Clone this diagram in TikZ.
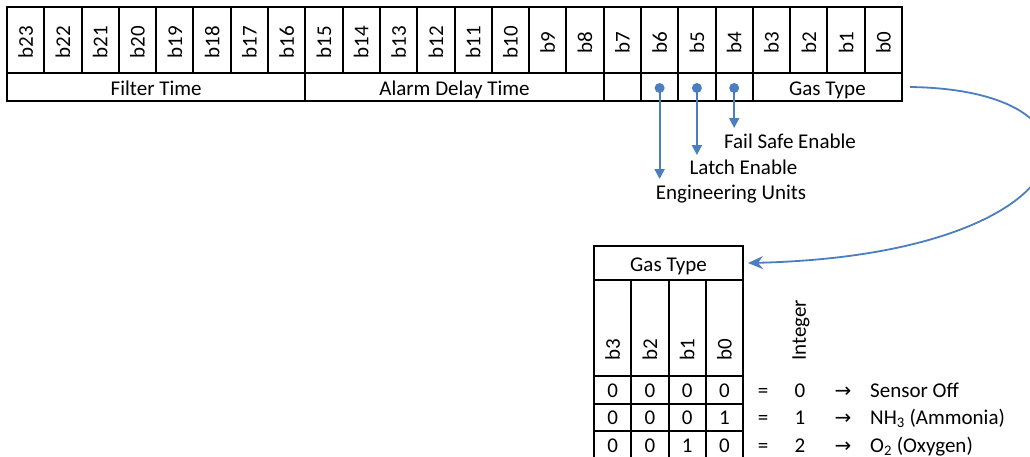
\documentclass[tikz,border=0pt]{standalone}
\usepackage{fontspec}
\setmainfont{Carlito}
\newfontfamily\arrowfont{DejaVu Sans}
\usetikzlibrary{arrows.meta}
\definecolor{linkblue}{RGB}{74,126,190}
\begin{document}
\begin{tikzpicture}[x=1pt,y=-1pt,
  font=\fontsize{21}{25}\selectfont,
  cell/.style={draw, line width=2pt, inner sep=0pt, outer sep=0pt},
  txtcell/.style={cell, text height=16pt, text depth=0pt},
  valcell/.style={cell, text height=14.5pt, text depth=0pt,
    minimum width=37.25pt, minimum height=27.5pt},
  bitlabel/.style={rotate=90, inner sep=0pt},
  dotmark/.style={circle, fill=linkblue, inner sep=0pt, minimum size=10pt},
  bluearrow/.style={draw=linkblue, line width=2pt,
    -{Triangle[length=10pt,width=10pt]}},
  curvearrow/.style={draw=linkblue, line width=1.8pt,
    -{Stealth[length=15pt,width=13pt,inset=5pt]}},
  plain/.style={inner sep=0pt}]
\useasboundingbox (0,0) rectangle (1030,456);
\fill[white] (0,0) rectangle (1030,456);
\clip (0,0) rectangle (1030,456);

% ---- top register: bit cells
\foreach \i in {0,...,23}{
  \pgfmathtruncatemacro\b{23-\i}
  \node[cell, minimum width=37.2917pt, minimum height=66pt] (c\b)
    at ({7+(\i+0.5)*37.2917},40) {};
  \node[bitlabel] (l\b) at ({7+(\i+0.5)*37.2917},42.5) {b\b};
}

% ---- top register: field row
\node[txtcell, minimum width=298.33pt, minimum height=28pt] (ft) at (156.17,87) {Filter Time};
\node[txtcell, minimum width=298.33pt, minimum height=28pt] (ad) at (454.5,87) {Alarm Delay Time};
\node[cell, minimum width=37.29pt, minimum height=28pt] (f7) at (622.31,87) {};
\node[cell, minimum width=37.29pt, minimum height=28pt] (f6) at (659.6,87) {};
\node[cell, minimum width=37.29pt, minimum height=28pt] (f5) at (696.9,87) {};
\node[cell, minimum width=37.29pt, minimum height=28pt] (f4) at (734.19,87) {};
\node[txtcell, minimum width=149.17pt, minimum height=28pt] (gt) at (827.42,87) {Gas Type};

% ---- flag dots and arrows
\node[dotmark] (d6) at (659.6,88) {};
\node[dotmark] (d5) at (696.9,88) {};
\node[dotmark] (d4) at (734.19,88) {};
\coordinate (e6) at (659.6,179);
\coordinate (e5) at (696.9,155);
\coordinate (e4) at (734.19,128);
\draw[bluearrow] (d6.center) -- (e6);
\draw[bluearrow] (d5.center) -- (e5);
\draw[bluearrow] (d4.center) -- (e4);
\node[plain, anchor=base] (fse) at (790,148) {Fail Safe Enable};
\node[plain, anchor=base] (lat) at (743.5,174) {Latch Enable};
\node[plain, anchor=base] (eng) at (731,199) {Engineering Units};

% ---- gas type table
\node[txtcell, minimum width=149pt, minimum height=34pt] (tgt) at (668.5,263) {Gas Type};
\foreach \b/\x in {3/612.63,2/649.88,1/687.13,0/724.38}{
  \node[cell, minimum width=37.25pt, minimum height=96pt] (h\b) at (\x,328) {};
  \node[bitlabel, anchor=west] (hl\b) at (\x,361) {b\b};
}
\node[bitlabel, anchor=west] (integ) at (801,361) {Integer};

\foreach \r/\y/\bthree/\btwo/\bone/\bzero/\n/\name in {
  1/389.75/0/0/0/0/0/{Sensor Off},
  2/417.25/0/0/0/1/1/{NH\textsubscript{3} (Ammonia)},
  3/444.75/0/0/1/0/2/{O\textsubscript{2} (Oxygen)}}{
  \node[valcell] (r\r b3) at (612.63,\y) {\bthree};
  \node[valcell] (r\r b2) at (649.88,\y) {\btwo};
  \node[valcell] (r\r b1) at (687.13,\y) {\bone};
  \node[valcell] (r\r b0) at (724.38,\y) {\bzero};
  \node[plain, anchor=base] (r\r eq) at (763,\y+7.25) {=};
  \node[plain, anchor=base] (r\r n) at (800,\y+7.25) {\n};
  \node[plain, anchor=base] (r\r ar) at (843,\y+7.25) {\arrowfont\fontsize{20}{24}\selectfont →};
  \node[plain, anchor=base west] (r\r t) at (870,\y+7.25) {\name};
}

% ---- curved connector
\draw[curvearrow] ([xshift=8pt]gt.east) .. controls (1130,90) and (1090,255) .. ([xshift=5pt]tgt.east);
\end{tikzpicture}
\end{document}
